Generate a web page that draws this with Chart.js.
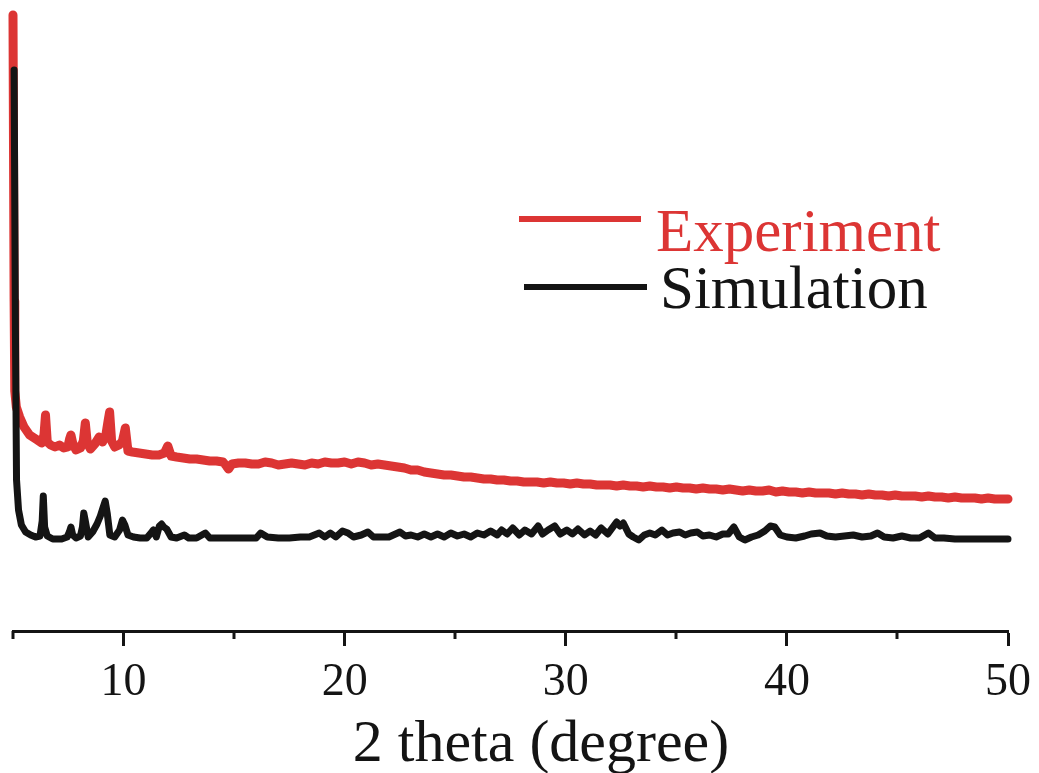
<!DOCTYPE html>
<html>
<head>
<meta charset="utf-8">
<title>PXRD</title>
<script src="https://cdn.jsdelivr.net/npm/chart.js@4/dist/chart.umd.min.js"></script>
<style>
  html, body { margin: 0; padding: 0; background: #fff; }
  #wrap { width: 1039px; height: 773px; position: relative; }
</style>
</head>
<body>
<div id="wrap"><canvas id="xrd"></canvas></div>
<script>
// measured pattern (2 theta in degrees, intensity in a.u.)
const expTheta = [
  5.00, 5.05, 5.08, 5.15, 5.30, 5.50, 5.75, 6.10, 6.30, 6.40, 6.47, 6.55, 6.70, 6.90, 7.10, 7.30, 7.48, 7.56, 7.62, 7.70, 7.85,
  8.05, 8.18, 8.27, 8.36, 8.50, 8.70, 8.90, 9.05, 9.20, 9.30, 9.37, 9.46, 9.60, 9.80, 9.95, 10.08, 10.20, 10.40,
  10.70, 11.00, 11.30, 11.60, 11.85, 12.00, 12.15, 12.40, 12.70, 13.00, 13.30, 13.60, 13.90, 14.20, 14.50, 14.65, 14.75, 14.90,
  15.20, 15.50, 15.80, 16.10, 16.40, 16.70, 17.00, 17.30, 17.60, 17.90, 18.20, 18.50, 18.80, 19.10, 19.40, 19.70, 20.00,
  20.30, 20.60, 20.90, 21.20, 21.50, 21.80, 22.10, 22.40, 22.70, 23.00, 23.30, 23.60, 23.90, 24.20, 24.50, 24.80, 25.10,
  25.40, 25.70, 26.00, 26.30, 26.60, 26.90, 27.20, 27.50, 27.80, 28.10, 28.40, 28.70, 29.00, 29.30, 29.60, 29.90, 30.20,
  30.50, 30.80, 31.10, 31.40, 31.70, 32.00, 32.30, 32.60, 32.90, 33.20, 33.50, 33.80, 34.10, 34.40, 34.70, 35.00, 35.30,
  35.60, 35.90, 36.20, 36.50, 36.80, 37.10, 37.40, 37.70, 38.00, 38.30, 38.60, 38.90, 39.20, 39.50, 39.80, 40.10, 40.40,
  40.70, 41.00, 41.30, 41.60, 41.90, 42.20, 42.50, 42.80, 43.10, 43.40, 43.70, 44.00, 44.30, 44.60, 44.90, 45.20, 45.50,
  45.80, 46.10, 46.40, 46.70, 47.00, 47.30, 47.60, 47.90, 48.20, 48.50, 48.80, 49.10, 49.40, 49.70, 50.00
];
const expInt = [
  616, 330, 240, 224, 214, 204, 196, 191, 188, 196, 216, 189, 186, 184, 186, 183, 184, 192, 196, 188, 181,
  183, 190, 208, 188, 182, 187, 194, 189, 196, 210, 219, 190, 184, 186, 190, 203, 180, 179,
  178, 177, 176, 176, 178, 185, 175, 174, 173, 172, 172, 171, 170, 170, 169, 165, 162, 167,
  168, 168, 167, 167, 169, 168, 166, 167, 168, 167, 166, 168, 167, 169, 168, 168, 169,
  167, 169, 168, 166, 167, 166, 165, 164, 163, 161, 161, 159, 158, 157, 156, 156, 155,
  154, 154, 153, 152, 152, 151, 151, 150, 150, 149, 149, 149, 148, 149, 148, 148, 147,
  148, 147, 147, 146, 146, 146, 145, 146, 145, 145, 144, 145, 144, 144, 143, 144, 143,
  143, 142, 143, 142, 142, 141, 142, 141, 140, 141, 140, 140, 141, 139, 140, 139, 139,
  138, 139, 138, 138, 138, 137, 138, 137, 137, 136, 137, 136, 136, 135, 136, 135, 135,
  135, 134, 135, 134, 134, 133, 134, 133, 133, 133, 132, 133, 132, 132, 132
];

// simulated pattern from the single-crystal structure
const simTheta = [
  5.05, 5.11, 5.16, 5.25, 5.38, 5.57, 5.80, 6.02, 6.22, 6.32, 6.37, 6.43, 6.55, 6.80, 7.20, 7.45, 7.55, 7.62, 7.70, 7.85,
  8.05, 8.14, 8.20, 8.27, 8.40, 8.60, 8.80, 8.95, 9.08, 9.17, 9.26, 9.38, 9.60, 9.82, 9.95, 10.06, 10.20, 10.45,
  10.75, 11.05, 11.28, 11.35, 11.48, 11.62, 11.72, 11.82, 11.95, 12.15, 12.40, 12.75, 12.95, 13.30, 13.70, 13.90,
  14.50, 15.00, 15.50, 16.00, 16.20, 16.50, 17.00, 17.50, 18.00, 18.40, 18.85, 19.10, 19.35, 19.60, 19.90, 20.15,
  20.40, 20.75, 21.05, 21.30, 21.70, 22.00, 22.50, 22.75, 23.00, 23.30, 23.60, 23.90, 24.20, 24.50, 24.80, 25.10,
  25.40, 25.70, 26.00, 26.30, 26.60, 26.90, 27.10, 27.35, 27.60, 27.90, 28.15, 28.45, 28.75, 28.95, 29.20, 29.50,
  29.75, 30.05, 30.30, 30.55, 30.85, 31.10, 31.35, 31.60, 31.90, 32.10, 32.30, 32.45, 32.60, 32.85, 33.05, 33.30,
  33.55, 33.80, 34.05, 34.35, 34.60, 34.85, 35.15, 35.40, 35.65, 35.95, 36.20, 36.50, 36.80, 37.10, 37.35, 37.60,
  37.85, 38.10, 38.40, 38.70, 39.00, 39.25, 39.45, 39.70, 40.00, 40.40, 40.80, 41.10, 41.50, 41.80, 42.20, 42.60,
  43.00, 43.40, 43.80, 44.10, 44.40, 44.80, 45.20, 45.60, 46.00, 46.40, 46.70, 47.10, 47.60, 48.10, 48.60, 49.10,
  49.60, 50.00
];
const simInt = [
  561, 300, 151, 121, 106, 99, 96, 94, 95, 110, 135, 104, 95, 92, 92, 94, 99, 104, 96, 93,
  95, 104, 118, 110, 94, 99, 107, 115, 124, 130, 118, 96, 94, 101, 111, 106, 96, 94,
  93, 93, 99, 101, 94, 105, 107, 104, 102, 94, 93, 96, 93, 93, 98, 93,
  93, 93, 93, 93, 98, 94, 93, 93, 94, 94, 98, 94, 98, 94, 100, 98,
  94, 96, 99, 94, 94, 94, 99, 95, 96, 94, 97, 94, 97, 94, 98, 95,
  97, 94, 98, 96, 100, 96, 101, 97, 103, 96, 101, 97, 105, 97, 101, 105,
  97, 101, 97, 102, 96, 100, 96, 103, 97, 103, 109, 105, 108, 97, 94, 91,
  96, 98, 96, 101, 96, 98, 99, 96, 98, 99, 95, 96, 94, 97, 97, 104,
  94, 91, 94, 96, 100, 105, 104, 96, 94, 93, 95, 97, 98, 95, 94, 95,
  96, 94, 95, 98, 94, 93, 95, 93, 93, 98, 93, 93, 92, 92, 92, 92,
  92, 92
];

const seriesNames = ['Experiment', 'Simulation'];
const seriesColors = ['#dc3534', '#141414'];
const majorTicks = [10, 20, 30, 40, 50];
const minorTicks = [5, 15, 25, 35, 45];
const xTitle = '2 theta (degree)';

const serif = "'Liberation Serif', 'DejaVu Serif', serif";

const toPoints = (xs, ys) => xs.map((x, i) => ({ x: x, y: ys[i] }));

// short minor ticks under the axis line, plus the axis title
const axisExtrasPlugin = {
  id: 'axisExtras',
  afterDraw(chart) {
    const ctx = chart.ctx;
    const xs = chart.scales.x;
    const y0 = chart.chartArea.bottom;
    ctx.save();
    ctx.strokeStyle = '#141414';
    ctx.lineWidth = 3;
    minorTicks.forEach(v => {
      const px = Math.round(xs.getPixelForValue(v));
      ctx.beginPath();
      ctx.moveTo(px, y0);
      ctx.lineTo(px, y0 + 8);
      ctx.stroke();
    });
    ctx.fillStyle = '#141414';
    ctx.font = '60px ' + serif;
    ctx.textAlign = 'center';
    ctx.textBaseline = 'alphabetic';
    ctx.fillText(xTitle, 541, 761);
    ctx.restore();
  }
};

// legend: line sample on the left, coloured name on the right
const sideLegendPlugin = {
  id: 'sideLegend',
  afterDraw(chart) {
    const ctx = chart.ctx;
    const rows = [
      { x0: 519, x1: 641, y: 219, tx: 656, ty: 251 },
      { x0: 524, x1: 647, y: 287, tx: 660, ty: 308 }
    ];
    ctx.save();
    chart.data.datasets.forEach((ds, i) => {
      const r = rows[i];
      ctx.strokeStyle = ds.borderColor;
      ctx.lineWidth = 6;
      ctx.beginPath();
      ctx.moveTo(r.x0, r.y);
      ctx.lineTo(r.x1, r.y);
      ctx.stroke();
      ctx.fillStyle = ds.borderColor;
      ctx.font = '61px ' + serif;
      ctx.textAlign = 'left';
      ctx.textBaseline = 'alphabetic';
      ctx.fillText(ds.label, r.tx, r.ty);
    });
    ctx.restore();
  }
};

new Chart(document.getElementById('xrd'), {
  type: 'line',
  data: {
    datasets: [
      {
        label: seriesNames[0],
        data: toPoints(expTheta, expInt),
        borderColor: seriesColors[0],
        borderWidth: 9,
        pointRadius: 0,
        tension: 0,
        borderJoinStyle: 'round',
        borderCapStyle: 'round',
        order: 1,
        clip: false
      },
      {
        label: seriesNames[1],
        data: toPoints(simTheta, simInt),
        borderColor: seriesColors[1],
        borderWidth: 7,
        pointRadius: 0,
        tension: 0,
        borderJoinStyle: 'round',
        borderCapStyle: 'round',
        order: 0,
        clip: false
      }
    ]
  },
  options: {
    responsive: true,
    maintainAspectRatio: false,
    animation: false,
    layout: { padding: { left: 13, right: 31, top: 13, bottom: 0 } },
    plugins: {
      legend: { display: false },
      tooltip: { enabled: false }
    },
    scales: {
      x: {
        type: 'linear',
        min: 5,
        max: 50,
        afterFit(scale) {
          scale.height = 142;
          scale.paddingLeft = 0;
          scale.paddingRight = 0;
        },
        ticks: {
          stepSize: 5,
          autoSkip: false,
          maxRotation: 0,
          padding: 14,
          color: '#141414',
          font: { family: serif, size: 46, lineHeight: 1 },
          callback: v => (majorTicks.includes(v) ? String(v) : '')
        },
        grid: {
          drawOnChartArea: false,
          drawTicks: true,
          tickLength: 15,
          tickWidth: 3,
          tickColor: c => (majorTicks.includes(c.tick && c.tick.value) ? '#141414' : 'rgba(0,0,0,0)')
        },
        border: { display: true, color: '#141414', width: 3 },
        title: { display: false }
      },
      y: {
        display: false,
        min: 0,
        max: 618
      }
    }
  },
  plugins: [axisExtrasPlugin, sideLegendPlugin]
});
</script>
</body>
</html>
